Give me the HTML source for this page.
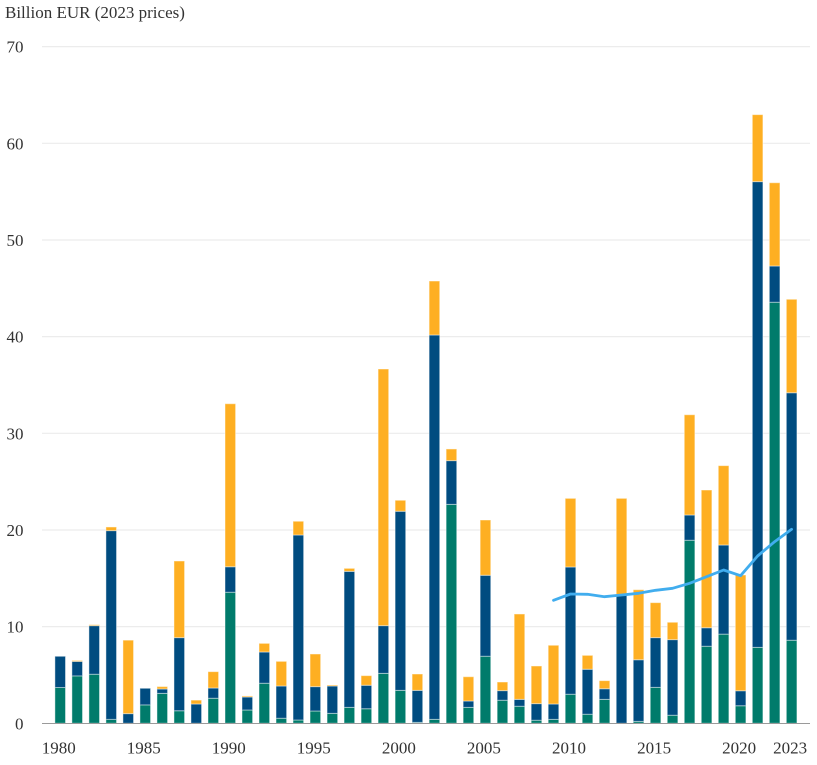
<!DOCTYPE html>
<html>
<head>
<meta charset="utf-8">
<style>
html,body{margin:0;padding:0;background:#fff;}
svg{display:block;}
svg text{font-family:"Liberation Serif","Times New Roman","DejaVu Serif",serif;fill:#333;}
</style>
</head>
<body>
<svg width="817" height="765" viewBox="0 0 817 765" xmlns="http://www.w3.org/2000/svg" font-family="'Liberation Serif', 'DejaVu Serif', serif">
<rect x="0" y="0" width="817" height="765" fill="#fff"/>
<text x="5" y="18" font-size="17">Billion EUR (2023 prices)</text>
<g stroke="#ececec" stroke-width="1.2">
<line x1="42" x2="810" y1="626.6" y2="626.6"/>
<line x1="42" x2="810" y1="530.0" y2="530.0"/>
<line x1="42" x2="810" y1="433.3" y2="433.3"/>
<line x1="42" x2="810" y1="336.6" y2="336.6"/>
<line x1="42" x2="810" y1="240.0" y2="240.0"/>
<line x1="42" x2="810" y1="143.3" y2="143.3"/>
<line x1="42" x2="810" y1="46.6" y2="46.6"/>
</g>
<g font-size="17" text-anchor="end">
<text x="23.5" y="729.5">0</text>
<text x="23.5" y="632.6">10</text>
<text x="23.5" y="536">20</text>
<text x="23.5" y="439.3">30</text>
<text x="23.5" y="342.6">40</text>
<text x="23.5" y="246">50</text>
<text x="23.5" y="149.3">60</text>
<text x="23.5" y="52.6">70</text>
</g>
<g transform="translate(0,723.3) scale(1,-9.667)" stroke="#fff" stroke-opacity="0.45" stroke-width="1">
<g fill="#007B6B">
<rect vector-effect="non-scaling-stroke" x="54.90" y="0" width="10.6" height="3.7"/>
<rect vector-effect="non-scaling-stroke" x="71.91" y="0" width="10.6" height="4.9"/>
<rect vector-effect="non-scaling-stroke" x="88.92" y="0" width="10.6" height="5.07"/>
<rect vector-effect="non-scaling-stroke" x="105.93" y="0" width="10.6" height="0.4"/>
<rect vector-effect="non-scaling-stroke" x="139.95" y="0" width="10.6" height="1.9"/>
<rect vector-effect="non-scaling-stroke" x="156.96" y="0" width="10.6" height="3.1"/>
<rect vector-effect="non-scaling-stroke" x="173.97" y="0" width="10.6" height="1.3"/>
<rect vector-effect="non-scaling-stroke" x="207.99" y="0" width="10.6" height="2.59"/>
<rect vector-effect="non-scaling-stroke" x="225.00" y="0" width="10.6" height="13.55"/>
<rect vector-effect="non-scaling-stroke" x="242.01" y="0" width="10.6" height="1.38"/>
<rect vector-effect="non-scaling-stroke" x="259.02" y="0" width="10.6" height="4.14"/>
<rect vector-effect="non-scaling-stroke" x="276.03" y="0" width="10.6" height="0.52"/>
<rect vector-effect="non-scaling-stroke" x="293.04" y="0" width="10.6" height="0.34"/>
<rect vector-effect="non-scaling-stroke" x="310.05" y="0" width="10.6" height="1.27"/>
<rect vector-effect="non-scaling-stroke" x="327.06" y="0" width="10.6" height="1.03"/>
<rect vector-effect="non-scaling-stroke" x="344.07" y="0" width="10.6" height="1.65"/>
<rect vector-effect="non-scaling-stroke" x="361.08" y="0" width="10.6" height="1.51"/>
<rect vector-effect="non-scaling-stroke" x="378.09" y="0" width="10.6" height="5.17"/>
<rect vector-effect="non-scaling-stroke" x="395.10" y="0" width="10.6" height="3.41"/>
<rect vector-effect="non-scaling-stroke" x="412.11" y="0" width="10.6" height="0.1"/>
<rect vector-effect="non-scaling-stroke" x="429.12" y="0" width="10.6" height="0.41"/>
<rect vector-effect="non-scaling-stroke" x="446.13" y="0" width="10.6" height="22.65"/>
<rect vector-effect="non-scaling-stroke" x="463.14" y="0" width="10.6" height="1.65"/>
<rect vector-effect="non-scaling-stroke" x="480.15" y="0" width="10.6" height="6.93"/>
<rect vector-effect="non-scaling-stroke" x="497.16" y="0" width="10.6" height="2.38"/>
<rect vector-effect="non-scaling-stroke" x="514.17" y="0" width="10.6" height="1.76"/>
<rect vector-effect="non-scaling-stroke" x="531.18" y="0" width="10.6" height="0.31"/>
<rect vector-effect="non-scaling-stroke" x="548.19" y="0" width="10.6" height="0.41"/>
<rect vector-effect="non-scaling-stroke" x="565.20" y="0" width="10.6" height="3.0"/>
<rect vector-effect="non-scaling-stroke" x="582.21" y="0" width="10.6" height="0.93"/>
<rect vector-effect="non-scaling-stroke" x="599.22" y="0" width="10.6" height="2.48"/>
<rect vector-effect="non-scaling-stroke" x="633.24" y="0" width="10.6" height="0.2"/>
<rect vector-effect="non-scaling-stroke" x="650.25" y="0" width="10.6" height="3.72"/>
<rect vector-effect="non-scaling-stroke" x="667.26" y="0" width="10.6" height="0.83"/>
<rect vector-effect="non-scaling-stroke" x="684.27" y="0" width="10.6" height="18.93"/>
<rect vector-effect="non-scaling-stroke" x="701.28" y="0" width="10.6" height="7.97"/>
<rect vector-effect="non-scaling-stroke" x="718.29" y="0" width="10.6" height="9.22"/>
<rect vector-effect="non-scaling-stroke" x="735.30" y="0" width="10.6" height="1.82"/>
<rect vector-effect="non-scaling-stroke" x="752.31" y="0" width="10.6" height="7.86"/>
<rect vector-effect="non-scaling-stroke" x="769.32" y="0" width="10.6" height="43.55"/>
<rect vector-effect="non-scaling-stroke" x="786.33" y="0" width="10.6" height="8.59"/>
</g>
<g fill="#004C80">
<rect vector-effect="non-scaling-stroke" x="54.90" y="3.7" width="10.6" height="3.23"/>
<rect vector-effect="non-scaling-stroke" x="71.91" y="4.9" width="10.6" height="1.5"/>
<rect vector-effect="non-scaling-stroke" x="88.92" y="5.07" width="10.6" height="5.03"/>
<rect vector-effect="non-scaling-stroke" x="105.93" y="0.4" width="10.6" height="19.53"/>
<rect vector-effect="non-scaling-stroke" x="122.94" y="0" width="10.6" height="1.0"/>
<rect vector-effect="non-scaling-stroke" x="139.95" y="1.9" width="10.6" height="1.72"/>
<rect vector-effect="non-scaling-stroke" x="156.96" y="3.1" width="10.6" height="0.45"/>
<rect vector-effect="non-scaling-stroke" x="173.97" y="1.3" width="10.6" height="7.56"/>
<rect vector-effect="non-scaling-stroke" x="190.98" y="0" width="10.6" height="2.0"/>
<rect vector-effect="non-scaling-stroke" x="207.99" y="2.59" width="10.6" height="1.06"/>
<rect vector-effect="non-scaling-stroke" x="225.00" y="13.55" width="10.6" height="2.65"/>
<rect vector-effect="non-scaling-stroke" x="242.01" y="1.38" width="10.6" height="1.34"/>
<rect vector-effect="non-scaling-stroke" x="259.02" y="4.14" width="10.6" height="3.24"/>
<rect vector-effect="non-scaling-stroke" x="276.03" y="0.52" width="10.6" height="3.34"/>
<rect vector-effect="non-scaling-stroke" x="293.04" y="0.34" width="10.6" height="19.14"/>
<rect vector-effect="non-scaling-stroke" x="310.05" y="1.27" width="10.6" height="2.52"/>
<rect vector-effect="non-scaling-stroke" x="327.06" y="1.03" width="10.6" height="2.83"/>
<rect vector-effect="non-scaling-stroke" x="344.07" y="1.65" width="10.6" height="14.07"/>
<rect vector-effect="non-scaling-stroke" x="361.08" y="1.51" width="10.6" height="2.42"/>
<rect vector-effect="non-scaling-stroke" x="378.09" y="5.17" width="10.6" height="4.93"/>
<rect vector-effect="non-scaling-stroke" x="395.10" y="3.41" width="10.6" height="18.52"/>
<rect vector-effect="non-scaling-stroke" x="412.11" y="0.1" width="10.6" height="3.31"/>
<rect vector-effect="non-scaling-stroke" x="429.12" y="0.41" width="10.6" height="39.76"/>
<rect vector-effect="non-scaling-stroke" x="446.13" y="22.65" width="10.6" height="4.52"/>
<rect vector-effect="non-scaling-stroke" x="463.14" y="1.65" width="10.6" height="0.66"/>
<rect vector-effect="non-scaling-stroke" x="480.15" y="6.93" width="10.6" height="8.38"/>
<rect vector-effect="non-scaling-stroke" x="497.16" y="2.38" width="10.6" height="1.0"/>
<rect vector-effect="non-scaling-stroke" x="514.17" y="1.76" width="10.6" height="0.72"/>
<rect vector-effect="non-scaling-stroke" x="531.18" y="0.31" width="10.6" height="1.72"/>
<rect vector-effect="non-scaling-stroke" x="548.19" y="0.41" width="10.6" height="1.59"/>
<rect vector-effect="non-scaling-stroke" x="565.20" y="3.0" width="10.6" height="13.17"/>
<rect vector-effect="non-scaling-stroke" x="582.21" y="0.93" width="10.6" height="4.66"/>
<rect vector-effect="non-scaling-stroke" x="599.22" y="2.48" width="10.6" height="1.1"/>
<rect vector-effect="non-scaling-stroke" x="616.23" y="0" width="10.6" height="13.27"/>
<rect vector-effect="non-scaling-stroke" x="633.24" y="0.2" width="10.6" height="6.38"/>
<rect vector-effect="non-scaling-stroke" x="650.25" y="3.72" width="10.6" height="5.14"/>
<rect vector-effect="non-scaling-stroke" x="667.26" y="0.83" width="10.6" height="7.82"/>
<rect vector-effect="non-scaling-stroke" x="684.27" y="18.93" width="10.6" height="2.62"/>
<rect vector-effect="non-scaling-stroke" x="701.28" y="7.97" width="10.6" height="1.92"/>
<rect vector-effect="non-scaling-stroke" x="718.29" y="9.22" width="10.6" height="9.22"/>
<rect vector-effect="non-scaling-stroke" x="735.30" y="1.82" width="10.6" height="1.55"/>
<rect vector-effect="non-scaling-stroke" x="752.31" y="7.86" width="10.6" height="48.17"/>
<rect vector-effect="non-scaling-stroke" x="769.32" y="43.55" width="10.6" height="3.76"/>
<rect vector-effect="non-scaling-stroke" x="786.33" y="8.59" width="10.6" height="25.61"/>
</g>
<g fill="#FEAF22">
<rect vector-effect="non-scaling-stroke" x="71.91" y="6.4" width="10.6" height="0.1"/>
<rect vector-effect="non-scaling-stroke" x="88.92" y="10.1" width="10.6" height="0.1"/>
<rect vector-effect="non-scaling-stroke" x="105.93" y="19.93" width="10.6" height="0.38"/>
<rect vector-effect="non-scaling-stroke" x="122.94" y="1.0" width="10.6" height="7.6"/>
<rect vector-effect="non-scaling-stroke" x="156.96" y="3.55" width="10.6" height="0.25"/>
<rect vector-effect="non-scaling-stroke" x="173.97" y="8.86" width="10.6" height="7.93"/>
<rect vector-effect="non-scaling-stroke" x="190.98" y="2.0" width="10.6" height="0.4"/>
<rect vector-effect="non-scaling-stroke" x="207.99" y="3.65" width="10.6" height="1.69"/>
<rect vector-effect="non-scaling-stroke" x="225.00" y="16.2" width="10.6" height="16.86"/>
<rect vector-effect="non-scaling-stroke" x="242.01" y="2.72" width="10.6" height="0.11"/>
<rect vector-effect="non-scaling-stroke" x="259.02" y="7.38" width="10.6" height="0.89"/>
<rect vector-effect="non-scaling-stroke" x="276.03" y="3.86" width="10.6" height="2.55"/>
<rect vector-effect="non-scaling-stroke" x="293.04" y="19.48" width="10.6" height="1.42"/>
<rect vector-effect="non-scaling-stroke" x="310.05" y="3.79" width="10.6" height="3.38"/>
<rect vector-effect="non-scaling-stroke" x="327.06" y="3.86" width="10.6" height="0.1"/>
<rect vector-effect="non-scaling-stroke" x="344.07" y="15.72" width="10.6" height="0.31"/>
<rect vector-effect="non-scaling-stroke" x="361.08" y="3.93" width="10.6" height="1.0"/>
<rect vector-effect="non-scaling-stroke" x="378.09" y="10.1" width="10.6" height="26.55"/>
<rect vector-effect="non-scaling-stroke" x="395.10" y="21.93" width="10.6" height="1.14"/>
<rect vector-effect="non-scaling-stroke" x="412.11" y="3.41" width="10.6" height="1.69"/>
<rect vector-effect="non-scaling-stroke" x="429.12" y="40.17" width="10.6" height="5.58"/>
<rect vector-effect="non-scaling-stroke" x="446.13" y="27.17" width="10.6" height="1.21"/>
<rect vector-effect="non-scaling-stroke" x="463.14" y="2.31" width="10.6" height="2.51"/>
<rect vector-effect="non-scaling-stroke" x="480.15" y="15.31" width="10.6" height="5.72"/>
<rect vector-effect="non-scaling-stroke" x="497.16" y="3.38" width="10.6" height="0.89"/>
<rect vector-effect="non-scaling-stroke" x="514.17" y="2.48" width="10.6" height="8.83"/>
<rect vector-effect="non-scaling-stroke" x="531.18" y="2.03" width="10.6" height="3.9"/>
<rect vector-effect="non-scaling-stroke" x="548.19" y="2.0" width="10.6" height="6.07"/>
<rect vector-effect="non-scaling-stroke" x="565.20" y="16.17" width="10.6" height="7.1"/>
<rect vector-effect="non-scaling-stroke" x="582.21" y="5.59" width="10.6" height="1.44"/>
<rect vector-effect="non-scaling-stroke" x="599.22" y="3.58" width="10.6" height="0.83"/>
<rect vector-effect="non-scaling-stroke" x="616.23" y="13.27" width="10.6" height="10.0"/>
<rect vector-effect="non-scaling-stroke" x="633.24" y="6.58" width="10.6" height="7.24"/>
<rect vector-effect="non-scaling-stroke" x="650.25" y="8.86" width="10.6" height="3.62"/>
<rect vector-effect="non-scaling-stroke" x="667.26" y="8.65" width="10.6" height="1.8"/>
<rect vector-effect="non-scaling-stroke" x="684.27" y="21.55" width="10.6" height="10.37"/>
<rect vector-effect="non-scaling-stroke" x="701.28" y="9.89" width="10.6" height="14.24"/>
<rect vector-effect="non-scaling-stroke" x="718.29" y="18.44" width="10.6" height="8.21"/>
<rect vector-effect="non-scaling-stroke" x="735.30" y="3.37" width="10.6" height="11.97"/>
<rect vector-effect="non-scaling-stroke" x="752.31" y="56.03" width="10.6" height="6.93"/>
<rect vector-effect="non-scaling-stroke" x="769.32" y="47.31" width="10.6" height="8.61"/>
<rect vector-effect="non-scaling-stroke" x="786.33" y="34.2" width="10.6" height="9.66"/>
</g>
</g>
<line x1="42" x2="810" y1="723.5" y2="723.5" stroke="#9a9a9a" stroke-width="1"/>
<polyline fill="none" stroke="#41ADEE" stroke-width="2.8" stroke-linejoin="round" stroke-linecap="round" points="553.5,600.3 570.5,594.0 587.5,594.3 604.5,596.7 621.6,595.0 638.6,593.3 655.6,590.3 672.6,588.3 689.6,583.3 706.6,576.7 723.6,570.0 740.6,575.7 757.6,556.0 774.6,541.7 791.6,529.3"/>
<g font-size="17" text-anchor="middle">
<text x="58.7" y="753.5">1980</text>
<text x="143.7" y="753.5">1985</text>
<text x="228.8" y="753.5">1990</text>
<text x="313.8" y="753.5">1995</text>
<text x="398.9" y="753.5">2000</text>
<text x="483.9" y="753.5">2005</text>
<text x="569.0" y="753.5">2010</text>
<text x="654.1" y="753.5">2015</text>
<text x="739.1" y="753.5">2020</text>
<text x="790.1" y="753.5">2023</text>
</g>
</svg>
</body>
</html>
